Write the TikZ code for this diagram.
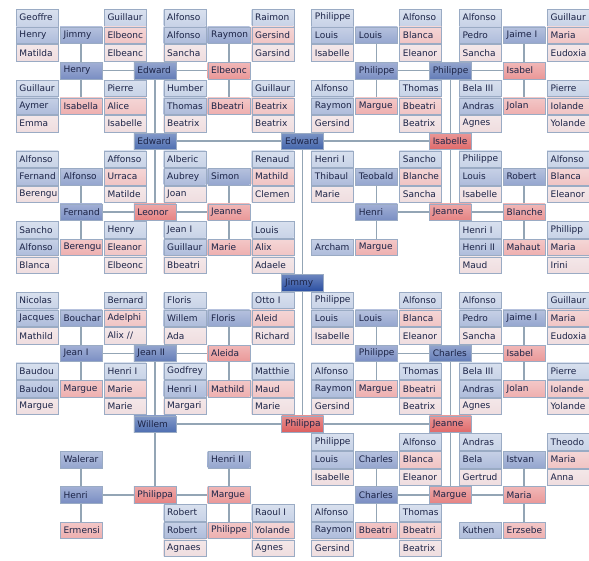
\documentclass[tikz,border=0pt]{standalone}
\usepackage{fontspec}
\setsansfont{DejaVu Sans}
\usetikzlibrary{backgrounds}
\definecolor{ink}{HTML}{1C2447}
\definecolor{frame}{HTML}{9AABC4}
\definecolor{linkgray}{HTML}{93A5B5}
\definecolor{male0}{HTML}{2C50A2}
\definecolor{male1}{HTML}{4365AB}
\definecolor{male2}{HTML}{4E6EB1}
\definecolor{male3}{HTML}{647DB8}
\definecolor{male4}{HTML}{7A8EC3}
\definecolor{male5}{HTML}{95A6CF}
\definecolor{male6}{HTML}{AEBCDB}
\definecolor{male7}{HTML}{C8D3E7}
\definecolor{female1}{HTML}{DC5E5E}
\definecolor{female2}{HTML}{E06A6A}
\definecolor{female3}{HTML}{E68383}
\definecolor{female4}{HTML}{EA9898}
\definecolor{female5}{HTML}{EEAFAF}
\definecolor{female6}{HTML}{F0C4C4}
\definecolor{female7}{HTML}{EFDDDF}
\tikzset{
  person/.style={rectangle, draw=frame, line width=0.4pt,
    top color=#1!70!white, bottom color=#1,
    minimum width=42pt, minimum height=16.4pt,
    text width=35pt, inner xsep=3.5pt, inner ysep=0pt, align=left,
    font=\sffamily\fontsize{9}{10}\selectfont, text=ink},
  link/.style={draw=linkgray, line width=1.6pt},
}

\begin{document}
\begin{tikzpicture}[x=1pt, y=-17.68pt]
  \useasboundingbox (0,-0.99) rectangle (589,30.74);

  % outer ring: great-great-great-grandparents
  \foreach \r/\c/\t in {0/0/Geoffre, 0/2/Guillaur, 4/0/Guillaur, 4/2/Pierre,
      0/3/Alfonso, 0/5/Raimon, 4/3/Humber, 4/5/Guillaur,
      8/0/Alfonso, 8/2/Affonso, 12/0/Sancho, 12/2/Henry,
      8/3/Alberic, 8/5/Renaud, 12/3/{Jean I}, 12/5/Louis,
      0/6/Philippe, 0/8/Alfonso, 4/6/Alfonso, 4/8/Thomas,
      0/9/Alfonso, 0/11/Guillaur, 4/9/{Bela III}, 4/11/Pierre,
      8/6/{Henri I}, 8/8/Sancho, 8/9/Philippe, 8/11/Alfonso,
      12/9/{Henri I}, 12/11/Phillipp,
      16/0/Nicolas, 16/2/Bernard, 20/0/Baudou, 20/2/{Henri I},
      16/3/Floris, 16/5/{Otto I}, 20/3/Godfrey, 20/5/Matthie,
      28/3/Robert, 28/5/{Raoul I},
      16/6/Philippe, 16/8/Alfonso, 20/6/Alfonso, 20/8/Thomas,
      16/9/Alfonso, 16/11/Guillaur, 20/9/{Bela III}, 20/11/Pierre,
      24/6/Philippe, 24/8/Alfonso, 28/6/Alfonso, 28/8/Thomas,
      24/9/Andras, 24/11/Theodo}
    \node[person=male7] (n\r-\c) at ({37+44*\c+15.7*floor(\c/3)},\r) {\t};
  \foreach \r/\c/\t in {2/0/Matilda, 2/2/Elbeanc, 6/0/Emma, 6/2/Isabelle,
      2/3/Sancha, 2/5/Garsind, 6/3/Beatrix, 6/5/Beatrix,
      10/0/Berengu, 10/2/Matilde, 14/0/Blanca, 14/2/Elbeonc,
      10/3/Joan, 10/5/Clemen, 14/3/Bbeatri, 14/5/Adaele,
      2/6/Isabelle, 2/8/Eleanor, 6/6/Gersind, 6/8/Beatrix,
      2/9/Sancha, 2/11/Eudoxia, 6/9/Agnes, 6/11/Yolande,
      10/6/Marie, 10/8/Sancha, 10/9/Isabelle, 10/11/Eleanor,
      14/9/Maud, 14/11/Irini,
      18/0/Mathild, 18/2/{Alix //}, 22/0/Margue, 22/2/Marie,
      18/3/Ada, 18/5/Richard, 22/3/Margari, 22/5/Marie,
      30/3/Agnaes, 30/5/Agnes,
      18/6/Isabelle, 18/8/Eleanor, 22/6/Gersind, 22/8/Beatrix,
      18/9/Sancha, 18/11/Eudoxia, 22/9/Agnes, 22/11/Yolande,
      26/6/Isabelle, 26/8/Eleanor, 30/6/Gersind, 30/8/Beatrix,
      26/9/Gertrud, 26/11/Anna}
    \node[person=female7] (n\r-\c) at ({37+44*\c+15.7*floor(\c/3)},\r) {\t};

  % great-great-grandparents
  \foreach \r/\c/\t in {1/0/Henry, 5/0/Aymer, 1/3/Alfonso, 5/3/Thomas,
      9/0/Fernand, 13/0/Alfonso, 9/3/Aubrey, 13/3/Guillaur,
      1/6/Louis, 5/6/Raymon, 1/9/Pedro, 5/9/Andras,
      9/6/Thibaul, 13/6/Archam, 9/9/Louis, 13/9/{Henri II},
      17/0/Jacques, 21/0/Baudou, 17/3/Willem, 21/3/{Henri I}, 29/3/Robert,
      17/6/Louis, 21/6/Raymon, 17/9/Pedro, 21/9/Andras,
      25/6/Louis, 29/6/Raymon, 25/9/Bela, 29/9/Kuthen}
    \node[person=male6] (n\r-\c) at ({37+44*\c+15.7*floor(\c/3)},\r) {\t};
  \foreach \r/\c/\t in {1/2/Elbeonc, 5/2/Alice, 1/5/Gersind, 5/5/Beatrix,
      9/2/Urraca, 13/2/Eleanor, 9/5/Mathild, 13/5/Alix,
      1/8/Blanca, 5/8/Bbeatri, 1/11/Maria, 5/11/Iolande,
      9/8/Blanche, 9/11/Blanca, 13/11/Maria,
      17/2/Adelphi, 21/2/Marie, 17/5/Aleid, 21/5/Maud, 29/5/Yolande,
      17/8/Blanca, 21/8/Bbeatri, 17/11/Maria, 21/11/Iolande,
      25/8/Blanca, 29/8/Bbeatri, 25/11/Maria}
    \node[person=female6] (n\r-\c) at ({37+44*\c+15.7*floor(\c/3)},\r) {\t};

  % great-grandparents
  \foreach \r/\c/\t in {1/1/Jimmy, 1/4/Raymon, 9/1/Alfonso, 9/4/Simon,
      1/7/Louis, 1/10/{Jaime I}, 9/7/Teobald, 9/10/Robert,
      17/1/Bouchar, 17/4/Floris, 25/1/Walerar, 25/4/{Henri II},
      17/7/Louis, 17/10/{Jaime I}, 25/7/Charles, 25/10/Istvan}
    \node[person=male5] (n\r-\c) at ({37+44*\c+15.7*floor(\c/3)},\r) {\t};
  \foreach \r/\c/\t in {5/1/Isabella, 5/4/Bbeatri, 13/1/Berengu, 13/4/Marie,
      5/7/Margue, 5/10/Jolan, 13/7/Margue, 13/10/Mahaut,
      21/1/Margue, 21/4/Mathild, 29/1/Ermensi, 29/4/Philippe,
      21/7/Margue, 21/10/Jolan, 29/7/Bbeatri, 29/10/Erzsebe}
    \node[person=female5] (n\r-\c) at ({37+44*\c+15.7*floor(\c/3)},\r) {\t};

  % inner H branches
  \foreach \r/\c/\t in {3/1/Henry, 11/1/Fernand, 3/7/Philippe, 11/7/Henri,
      19/1/{Jean I}, 27/1/Henri, 19/7/Philippe, 27/7/Charles}
    \node[person=male4] (n\r-\c) at ({37+44*\c+15.7*floor(\c/3)},\r) {\t};
  \foreach \r/\c/\t in {3/4/Elbeonc, 11/4/Jeanne, 3/10/Isabel, 11/10/Blanche,
      19/4/Aleida, 27/4/Margue, 19/10/Isabel, 27/10/Maria}
    \node[person=female4] (n\r-\c) at ({37+44*\c+15.7*floor(\c/3)},\r) {\t};

  \node[person=male3] (n3-m01) at (154.9,3) {Edward};
  \node[person=female3] (n11-m01) at (154.9,11) {Leonor};
  \node[person=male3] (n3-m23) at (450.3,3) {Philippe};
  \node[person=female3] (n11-m23) at (450.3,11) {Jeanne};
  \node[person=male3] (n19-m01) at (154.9,19) {Jean II};
  \node[person=female3] (n27-m01) at (154.9,27) {Philippa};
  \node[person=male3] (n19-m23) at (450.3,19) {Charles};
  \node[person=female3] (n27-m23) at (450.3,27) {Margue};

  % grandparents, parents, root
  \node[person=male2] (n7-m01) at (154.9,7) {Edward};
  \node[person=female2] (n7-m23) at (450.3,7) {Isabelle};
  \node[person=male2] (n23-m01) at (154.9,23) {Willem};
  \node[person=female2] (n23-m23) at (450.3,23) {Jeanne};
  \node[person=male1] (n7-m12) at (302.6,7) {Edward};
  \node[person=female1] (n23-m12) at (302.6,23) {Philippa};
  \node[person=male0] (n15-m12) at (302.6,15) {Jimmy};

  \begin{scope}[on background layer]
    \draw[link] (n7-m12) -- (n15-m12) -- (n23-m12);
    \draw[link] (n7-m01) -- (n7-m12) -- (n7-m23);
    \draw[link] (n23-m01) -- (n23-m12) -- (n23-m23);
    \foreach \m in {m01,m23}
      \foreach \r/\a/\b in {7/3/11, 23/19/27}
        \draw[link] (n\a-\m) -- (n\r-\m) -- (n\b-\m);
    \foreach \r in {3,11,19,27} {
      \draw[link] (n\r-1) -- (n\r-m01) -- (n\r-4);
      \draw[link] (n\r-7) -- (n\r-m23) -- (n\r-10);
      \foreach \c in {1,4,7,10} {
        \pgfmathtruncatemacro\up{\r-2}
        \pgfmathtruncatemacro\dn{\r+2}
        \draw[link] (n\up-\c) -- (n\dn-\c);
      }
    }
  \end{scope}
\end{tikzpicture}
\end{document}
